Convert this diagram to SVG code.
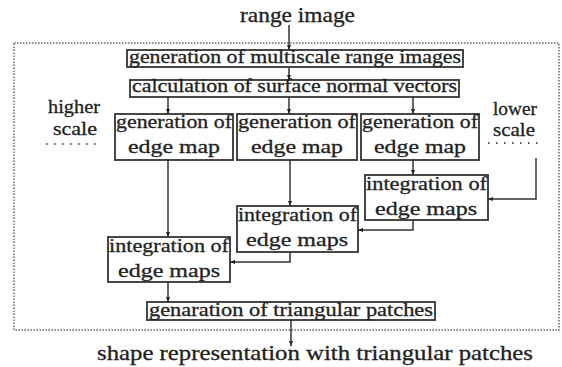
<svg xmlns="http://www.w3.org/2000/svg" width="562" height="367" viewBox="0 0 562 367" font-family="'Liberation Serif','Times New Roman',Times,'DejaVu Serif',serif">
<style>
text{font-family:"Liberation Serif","Times New Roman",Times,"DejaVu Serif",serif;fill:#222;stroke:#222;stroke-width:0.3}
.box{fill:#fff;stroke:#333;stroke-width:1.8}
.b2{font-size:19px}
.b1{font-size:18px}
.lab{font-size:19px}
.con{fill:none;stroke:#333;stroke-width:1.5}
.frame{fill:none;stroke:#666;stroke-width:1.5;stroke-dasharray:1.5 1.5}
.dots{stroke:#555;stroke-width:2;stroke-dasharray:1.5 6.5}
</style>
<defs>
<marker id="ah" viewBox="0 0 10 10" refX="10" refY="5" markerWidth="5" markerHeight="5" orient="auto" markerUnits="userSpaceOnUse">
<path d="M0,1 L10,5 L0,9 z" fill="#222"/>
</marker>
</defs>
<rect class="frame" x="14" y="43" width="545" height="287"/>
<text x="240" y="22" class="lab" textLength="115" lengthAdjust="spacingAndGlyphs" style="font-size:21px">range image</text>
<text x="97" y="360" class="lab" textLength="436" lengthAdjust="spacingAndGlyphs" style="font-size:21px">shape representation with triangular patches</text>
<g id="higher">
<text x="48" y="113" class="lab" textLength="52" lengthAdjust="spacingAndGlyphs">higher</text>
<text x="53" y="135" class="lab" textLength="44" lengthAdjust="spacingAndGlyphs">scale</text>
<line class="dots" x1="46" y1="144" x2="102" y2="144"/>
</g>
<g id="lower">
<text x="493" y="115" class="lab" textLength="44" lengthAdjust="spacingAndGlyphs">lower</text>
<text x="493" y="136" class="lab" textLength="42" lengthAdjust="spacingAndGlyphs">scale</text>
<line class="dots" x1="488" y1="143" x2="540" y2="143"/>
</g>
<g id="n_multiscale">
<rect class="box" x="127" y="50" width="336" height="17"/>
<text x="129" y="63" class="b1" textLength="332" lengthAdjust="spacingAndGlyphs">generation of multiscale range images</text>
</g>
<g id="n_normal">
<rect class="box" x="130" y="80" width="329" height="17"/>
<text x="132" y="92" class="b1" textLength="325" lengthAdjust="spacingAndGlyphs">calculation of surface normal vectors</text>
</g>
<g id="n_genA">
<rect class="box" x="115" y="114" width="118" height="46"/>
<text x="116" y="128" class="b2" textLength="116" lengthAdjust="spacingAndGlyphs">generation of</text>
<text x="174" y="153" class="b2" text-anchor="middle" textLength="92" lengthAdjust="spacingAndGlyphs">edge map</text>
</g>
<g id="n_genB">
<rect class="box" x="237" y="114" width="120" height="46"/>
<text x="238" y="128" class="b2" textLength="118" lengthAdjust="spacingAndGlyphs">generation of</text>
<text x="297" y="153" class="b2" text-anchor="middle" textLength="92" lengthAdjust="spacingAndGlyphs">edge map</text>
</g>
<g id="n_genC">
<rect class="box" x="361" y="114" width="118" height="46"/>
<text x="362" y="128" class="b2" textLength="116" lengthAdjust="spacingAndGlyphs">generation of</text>
<text x="420" y="153" class="b2" text-anchor="middle" textLength="92" lengthAdjust="spacingAndGlyphs">edge map</text>
</g>
<g id="n_intR">
<rect class="box" x="365" y="175" width="123" height="45"/>
<text x="366" y="190" class="b2" textLength="121" lengthAdjust="spacingAndGlyphs">integration of</text>
<text x="426" y="215" class="b2" text-anchor="middle" textLength="102" lengthAdjust="spacingAndGlyphs">edge maps</text>
</g>
<g id="n_intM">
<rect class="box" x="237" y="206" width="121" height="46"/>
<text x="238" y="221" class="b2" textLength="119" lengthAdjust="spacingAndGlyphs">integration of</text>
<text x="297" y="246" class="b2" text-anchor="middle" textLength="102" lengthAdjust="spacingAndGlyphs">edge maps</text>
</g>
<g id="n_intL">
<rect class="box" x="108" y="237" width="122" height="45"/>
<text x="109" y="252" class="b2" textLength="120" lengthAdjust="spacingAndGlyphs">integration of</text>
<text x="169" y="277" class="b2" text-anchor="middle" textLength="102" lengthAdjust="spacingAndGlyphs">edge maps</text>
</g>
<g id="n_tri">
<rect class="box" x="147" y="302" width="288" height="18"/>
<text x="149" y="316" class="b1" textLength="284" lengthAdjust="spacingAndGlyphs">genaration of triangular patches</text>
</g>
<g id="connectors">
<line class="con" x1="289" y1="25" x2="289" y2="50" marker-end="url(#ah)"/>
<line class="con" x1="289" y1="67" x2="289" y2="80" marker-end="url(#ah)"/>
<line class="con" x1="168" y1="97" x2="168" y2="114" marker-end="url(#ah)"/>
<line class="con" x1="289" y1="97" x2="289" y2="114" marker-end="url(#ah)"/>
<line class="con" x1="413" y1="97" x2="413" y2="114" marker-end="url(#ah)"/>
<line class="con" x1="168" y1="160" x2="168" y2="237" marker-end="url(#ah)"/>
<line class="con" x1="290" y1="160" x2="290" y2="206" marker-end="url(#ah)"/>
<line class="con" x1="413" y1="160" x2="413" y2="175" marker-end="url(#ah)"/>
<polyline class="con" points="536,158 536,199 488,199" marker-end="url(#ah)"/>
<polyline class="con" points="413,220 413,230 358,230" marker-end="url(#ah)"/>
<polyline class="con" points="290,252 290,262 230,262" marker-end="url(#ah)"/>
<line class="con" x1="168" y1="282" x2="168" y2="302" marker-end="url(#ah)"/>
<line class="con" x1="291" y1="320" x2="291" y2="346" marker-end="url(#ah)"/>
</g>
</svg>
